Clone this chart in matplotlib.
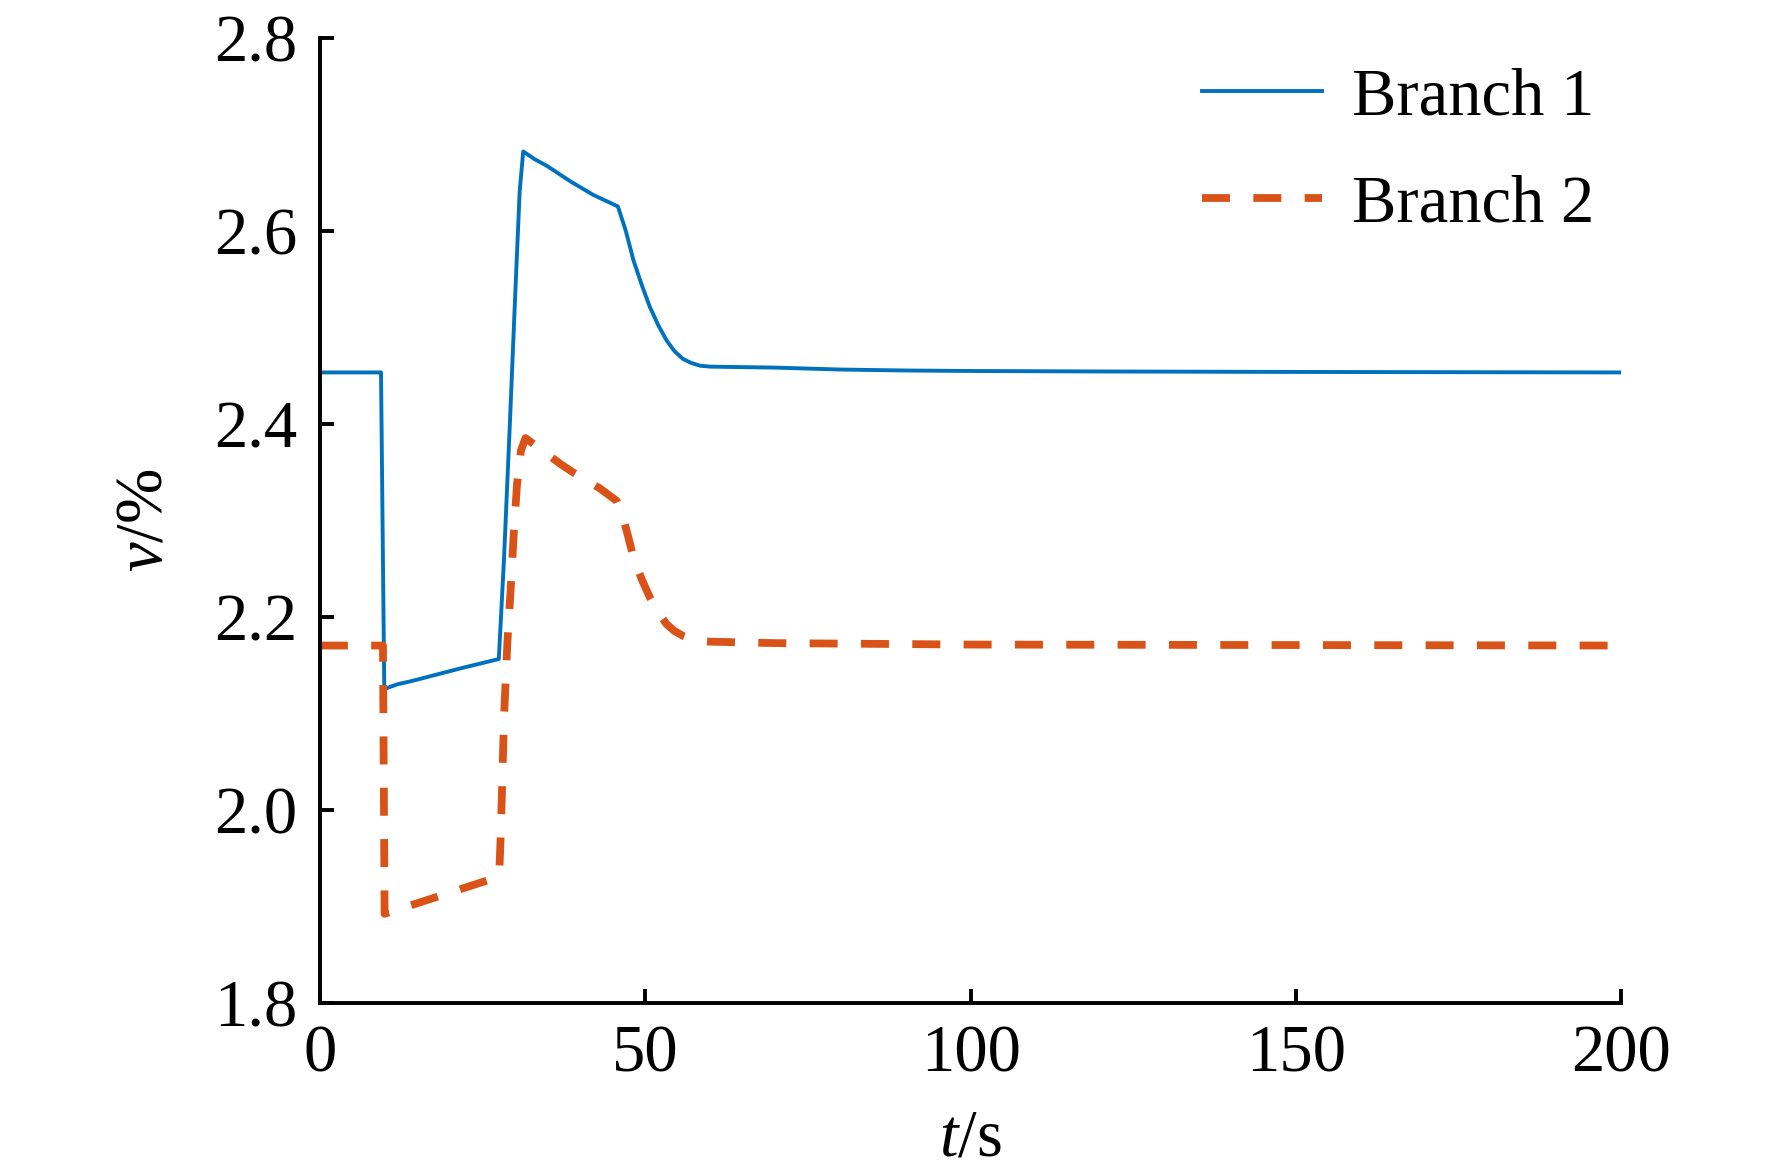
import matplotlib
matplotlib.use("Agg")
import matplotlib.pyplot as plt

BLUE = "#0072BD"
ORANGE = "#D95319"

plt.rcParams.update({
    "font.family": "Liberation Serif",
    "font.size": 24,
    "mathtext.fontset": "custom",
    "mathtext.rm": "Liberation Serif",
    "mathtext.it": "Liberation Serif:italic",
})

# Branch 1
t1 = [0, 9.4, 9.9, 12, 14, 18, 22, 27.5, 28.3, 29.2, 30.0, 30.7, 31.25, 33,
      34.9, 38.5, 42, 45.8, 47, 48.2, 49.5, 50.7, 52, 53.3, 54.5, 55.8, 57,
      58.4, 60, 65, 70, 80, 90, 100, 120, 150, 200]
v1 = [2.453, 2.453, 2.125, 2.130, 2.133, 2.140, 2.147, 2.156, 2.260, 2.400,
      2.530, 2.640, 2.682, 2.674, 2.667, 2.651, 2.637, 2.625, 2.600, 2.569,
      2.543, 2.521, 2.502, 2.486, 2.475, 2.467, 2.463, 2.460, 2.459, 2.4585,
      2.458, 2.456, 2.455, 2.4545, 2.454, 2.4535, 2.453]

# Branch 2
t2 = [0, 9.7, 9.95, 15, 20, 27.3, 27.6, 27.8, 28.3, 28.8, 29.3, 29.8, 30.3,
      30.9, 31.6, 33, 35, 37, 39, 41, 43, 45.6, 46.5, 47.3, 48.2, 49.5, 50.7,
      52, 53.3, 54.5, 55.8, 57, 58.4, 60, 70, 80, 100, 150, 200]
v2 = [2.170, 2.170, 1.892, 1.903, 1.914, 1.930, 1.940, 1.974, 2.095, 2.171,
      2.226, 2.286, 2.337, 2.372, 2.385, 2.378, 2.368, 2.358, 2.349, 2.341,
      2.333, 2.320, 2.305, 2.285, 2.261, 2.238, 2.220, 2.204, 2.192, 2.185,
      2.180, 2.177, 2.175, 2.174, 2.1725, 2.172, 2.171, 2.1705, 2.170]

labels = ["Branch 1", "Branch 2"]
xticks = [0, 50, 100, 150, 200]
yticks = [1.8, 2.0, 2.2, 2.4, 2.6, 2.8]

fig = plt.figure(figsize=(8.86, 5.87), dpi=200)
ax = fig.add_axes([0.1805, 0.146, 0.7345, 0.822])

ax.plot(t1, v1, color=BLUE, lw=1.4, label=labels[0])
ax.plot(t2, v2, color=ORANGE, lw=2.8, ls=(0, (3.6, 3.0)), label=labels[1])

ax.set_xlim(0, 200)
ax.set_ylim(1.8, 2.8)
ax.set_xticks(xticks)
ax.set_yticks(yticks)
ax.set_yticklabels([f"{y:.1f}" for y in yticks])
ax.tick_params(direction="in", length=5, width=1.4, pad=8)
for side in ("top", "right"):
    ax.spines[side].set_visible(False)
for side in ("left", "bottom"):
    ax.spines[side].set_linewidth(1.4)

ax.set_xlabel("$t$/s", labelpad=8)
ax.set_ylabel("$v$/%", labelpad=14)

ax.legend(loc="upper right", frameon=False, handlelength=1.8,
          handletextpad=0.45, labelspacing=0.7, borderaxespad=0.0,
          bbox_to_anchor=(1.0, 0.997))

fig.savefig("out.png", dpi=200, facecolor="white")
